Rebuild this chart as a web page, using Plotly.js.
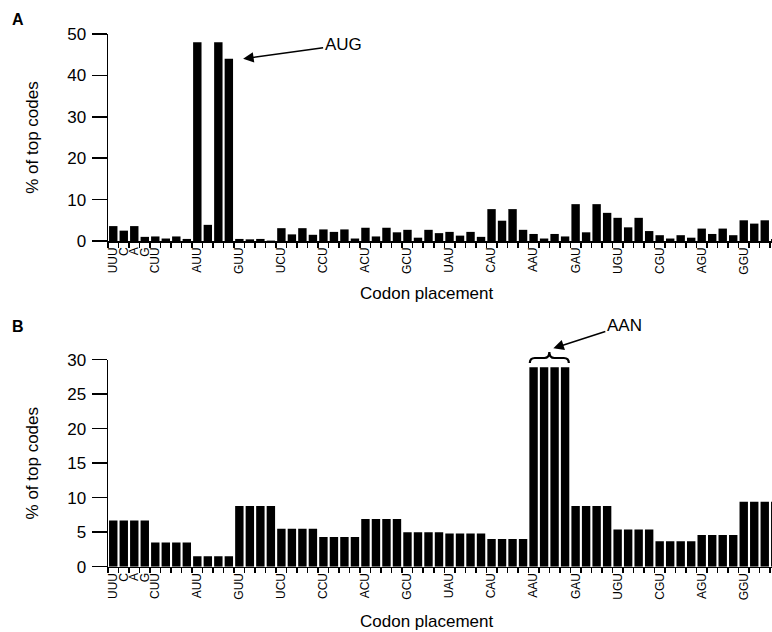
<!DOCTYPE html>
<html>
<head>
<meta charset="utf-8">
<script src="https://cdn.plot.ly/plotly-3.0.1.min.js"></script>
<style>
  html, body { margin: 0; padding: 0; background: #ffffff; }
  #chart { width: 772px; height: 632px; }
</style>
</head>
<body>
<div id="chart"></div>
<script>
// Codons in plotting order (third base fastest, then first base, then second base)
const codons = [
  "UUU","UUC","UUA","UUG","CUU","CUC","CUA","CUG","AUU","AUC","AUA","AUG","GUU","GUC","GUA","GUG",
  "UCU","UCC","UCA","UCG","CCU","CCC","CCA","CCG","ACU","ACC","ACA","ACG","GCU","GCC","GCA","GCG",
  "UAU","UAC","UAA","UAG","CAU","CAC","CAA","CAG","AAU","AAC","AAA","AAG","GAU","GAC","GAA","GAG",
  "UGU","UGC","UGA","UGG","CGU","CGC","CGA","CGG","AGU","AGC","AGA","AGG","GGU","GGC","GGA","GGG"
];

// Tick labels shown under the bars
const tickLabels = [
  "UUU","C","A","G","CUU","","","","AUU","","","","GUU","","","",
  "UCU","","","","CCU","","","","ACU","","","","GCU","","","",
  "UAU","","","","CAU","","","","AAU","","","","GAU","","","",
  "UGU","","","","CGU","","","","AGU","","","","GGU","","",""
];

// Panel A: % of top codes
const valuesA = [
  3.6, 2.5, 3.6, 1.0, 1.1, 0.6, 1.1, 0.5, 48.0, 3.9, 48.0, 44.0, 0.5, 0.4, 0.5, 0.1,
  3.1, 1.6, 3.1, 1.5, 2.8, 2.2, 2.8, 0.6, 3.2, 1.1, 3.2, 2.1, 2.7, 0.8, 2.7, 1.9,
  2.2, 1.3, 2.2, 1.0, 7.7, 4.9, 7.7, 2.7, 1.7, 0.6, 1.7, 1.1, 8.9, 2.1, 8.9, 6.8,
  5.6, 3.3, 5.6, 2.4, 1.4, 0.6, 1.4, 0.8, 3.0, 1.7, 3.0, 1.4, 5.0, 4.2, 5.0, 0.5
];

// Panel B: % of top codes
const valuesB = [
  6.7, 6.7, 6.7, 6.7, 3.5, 3.5, 3.5, 3.5, 1.5, 1.5, 1.5, 1.5, 8.8, 8.8, 8.8, 8.8,
  5.5, 5.5, 5.5, 5.5, 4.3, 4.3, 4.3, 4.3, 6.9, 6.9, 6.9, 6.9, 5.0, 5.0, 5.0, 5.0,
  4.8, 4.8, 4.8, 4.8, 4.0, 4.0, 4.0, 4.0, 28.9, 28.9, 28.9, 28.9, 8.8, 8.8, 8.8, 8.8,
  5.4, 5.4, 5.4, 5.4, 3.7, 3.7, 3.7, 3.7, 4.6, 4.6, 4.6, 4.6, 9.4, 9.4, 9.4, 9.4
];

const FONT = "Liberation Sans, Arial, Helvetica, sans-serif";
const W = 772, H = 632;

function xAxis(anchor) {
  return {
    type: "category",
    categoryorder: "array",
    categoryarray: codons,
    range: [-0.5, 62.69],
    domain: [0, 1],
    anchor: anchor,
    tickmode: "array",
    tickvals: codons,
    ticktext: tickLabels,
    tickson: "boundaries",
    ticks: "outside",
    ticklen: 5,
    tickwidth: 1.5,
    tickcolor: "#000",
    tickangle: -90,
    tickfont: { family: FONT, size: 12, color: "#000" },
    showline: true,
    linecolor: "#000",
    linewidth: 1.5,
    showgrid: false,
    zeroline: false,
    automargin: false,
    fixedrange: true
  };
}

function yAxis(anchor, domain, max, dtick) {
  return {
    anchor: anchor,
    domain: domain,
    range: [0, max],
    dtick: dtick,
    ticks: "outside",
    ticklen: 15,
    tickwidth: 1.5,
    tickcolor: "#000",
    ticklabelstandoff: 2,
    tickfont: { family: FONT, size: 17, color: "#000" },
    showline: true,
    linecolor: "#000",
    linewidth: 1.5,
    showgrid: false,
    zeroline: false,
    automargin: false,
    fixedrange: true,
    title: { text: "% of top codes", font: { family: FONT, size: 17, color: "#000" }, standoff: 24 }
  };
}

const traces = [
  { type: "bar", x: codons, y: valuesA, xaxis: "x", yaxis: "y",
    marker: { color: "#000", line: { width: 0 } }, hoverinfo: "none" },
  { type: "bar", x: codons, y: valuesB, xaxis: "x2", yaxis: "y2",
    marker: { color: "#000", line: { width: 0 } }, hoverinfo: "none" }
];

const augIdx = codons.indexOf("AUG");
const aanIdx = codons.indexOf("AAU");

const layout = {
  width: W, height: H,
  margin: { l: 108, r: 0, t: 0, b: 0, pad: 0 },
  paper_bgcolor: "#fff",
  plot_bgcolor: "#fff",
  showlegend: false,
  bargap: 0.2,
  font: { family: FONT, color: "#000" },
  xaxis: xAxis("y"),
  yaxis: yAxis("x", [1 - 241 / H, 1 - 34 / H], 50, 10),
  xaxis2: xAxis("y2"),
  yaxis2: yAxis("x2", [1 - 566.7 / H, 1 - 359.7 / H], 30, 5),
  annotations: [
    { text: "<b>A</b>", xref: "paper", yref: "paper", x: (18 - 108) / (W - 108), y: 1 - 19.5 / H,
      xanchor: "center", yanchor: "middle", showarrow: false, font: { family: FONT, size: 16, color: "#000" } },
    { text: "<b>B</b>", xref: "paper", yref: "paper", x: (18 - 108) / (W - 108), y: 1 - 326 / H,
      xanchor: "center", yanchor: "middle", showarrow: false, font: { family: FONT, size: 16, color: "#000" } },
    { text: "Codon placement", xref: "paper", yref: "paper", x: (427 - 108) / (W - 108), y: 1 - 293 / H,
      xanchor: "center", yanchor: "middle", showarrow: false, font: { family: FONT, size: 17, color: "#000" } },
    { text: "Codon placement", xref: "paper", yref: "paper", x: (427 - 108) / (W - 108), y: 1 - 621 / H,
      xanchor: "center", yanchor: "middle", showarrow: false, font: { family: FONT, size: 17, color: "#000" } },
    { text: "AUG", xref: "x", yref: "y", x: augIdx + 1.36, y: valuesA[augIdx],
      showarrow: true, ax: 100, ay: -14, arrowhead: 2, arrowsize: 1.4, arrowwidth: 1.5, arrowcolor: "#000",
      font: { family: FONT, size: 17, color: "#000" } },
    { text: "AAN", xref: "x2", yref: "y2", x: aanIdx + 1.88, y: valuesB[aanIdx], yshift: 19,
      showarrow: true, ax: 71, ay: -23, arrowhead: 2, arrowsize: 1.4, arrowwidth: 1.5, arrowcolor: "#000",
      font: { family: FONT, size: 17, color: "#000" } }
  ],
  shapes: [
    { type: "path", xref: "x2", yref: "y2 domain", xsizemode: "pixel", ysizemode: "pixel",
      xanchor: aanIdx + 1.5, yanchor: 1,
      path: "M -19.5 -3.3 Q -19.5 1.7 -14.5 1.7 L -5 1.7 Q 0 1.7 0 7.7 Q 0 1.7 5 1.7 L 14.5 1.7 Q 19.5 1.7 19.5 -3.3",
      line: { color: "#000", width: 2.2 }, fillcolor: "rgba(0,0,0,0)" }
  ]
};

Plotly.newPlot("chart", traces, layout, { displayModeBar: false, staticPlot: true });
</script>
</body>
</html>
